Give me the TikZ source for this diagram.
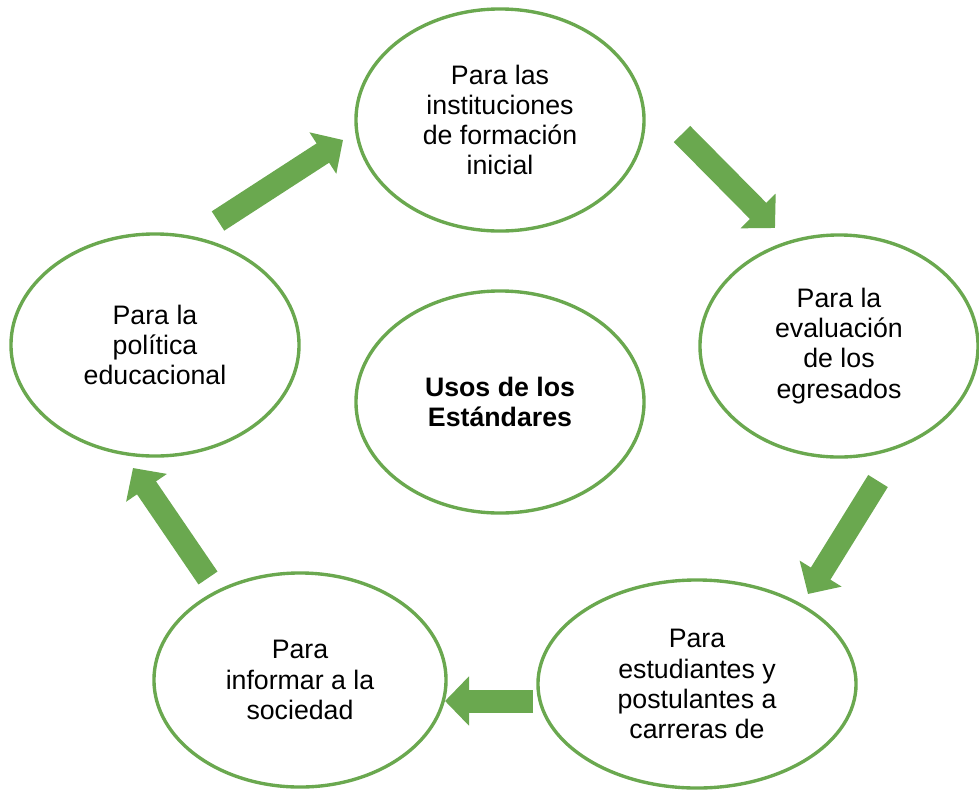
\documentclass[tikz,border=0pt]{standalone}
\usepackage{fontspec}
\setmainfont{Liberation Sans}
\usetikzlibrary{shapes.geometric,arrows.meta}

\definecolor{usosgreen}{RGB}{106,168,79}

\tikzset{
    uso/.style={ellipse, draw=usosgreen, line width=2.4pt, align=center,
        inner sep=0pt, font=\fontsize{19}{21.4}\selectfont},
    flecha/.style={draw=usosgreen, line width=0.575cm,
        -{Triangle[length=0.6cm, width=1.2cm]}}
}

\begin{document}
\begin{tikzpicture}[x=0.025cm, y=-0.025cm]
                \useasboundingbox (0,0) rectangle (979,790);

                \node[uso, minimum width=7.2cm, minimum height=5.55cm] (inicial) at (500,120)
                    {Para las\\instituciones\\de formación\\inicial};
                \node[uso, minimum width=6.95cm, minimum height=5.55cm] (egresados) at (839,346)
                    {Para la\\evaluación\\de los\\egresados};
                \node[uso, minimum width=7.95cm, minimum height=5.2cm] (estudiantes) at (697,684)
                    {Para\\estudiantes y\\postulantes a\\carreras de};
                \node[uso, minimum width=7.3cm, minimum height=5.35cm] (sociedad) at (300,680)
                    {Para\\informar a la\\sociedad};
                \node[uso, minimum width=7.2cm, minimum height=5.55cm] (politica) at (155,345)
                    {Para la\\política\\educacional};
                \node[uso, minimum width=7.2cm, minimum height=5.55cm] (usos) at (500,402)
                    {\bfseries Usos de los\\\bfseries Estándares};

                % flechas del ciclo
                \coordinate (f1a) at (218,221);
                \coordinate (f1b) at (343,140);
                \coordinate (f2a) at (682,134);
                \coordinate (f2b) at (775,228);
                \coordinate (f3a) at (878,481);
                \coordinate (f3b) at (808,594);
                \coordinate (f4a) at (533,701);
                \coordinate (f4b) at (445,701);
                \coordinate (f5a) at (208,578);
                \coordinate (f5b) at (133,468);

                \foreach \i in {1,...,5}
                    \draw[flecha] (f\i a) -- (f\i b);
            \end{tikzpicture}
\end{document}
